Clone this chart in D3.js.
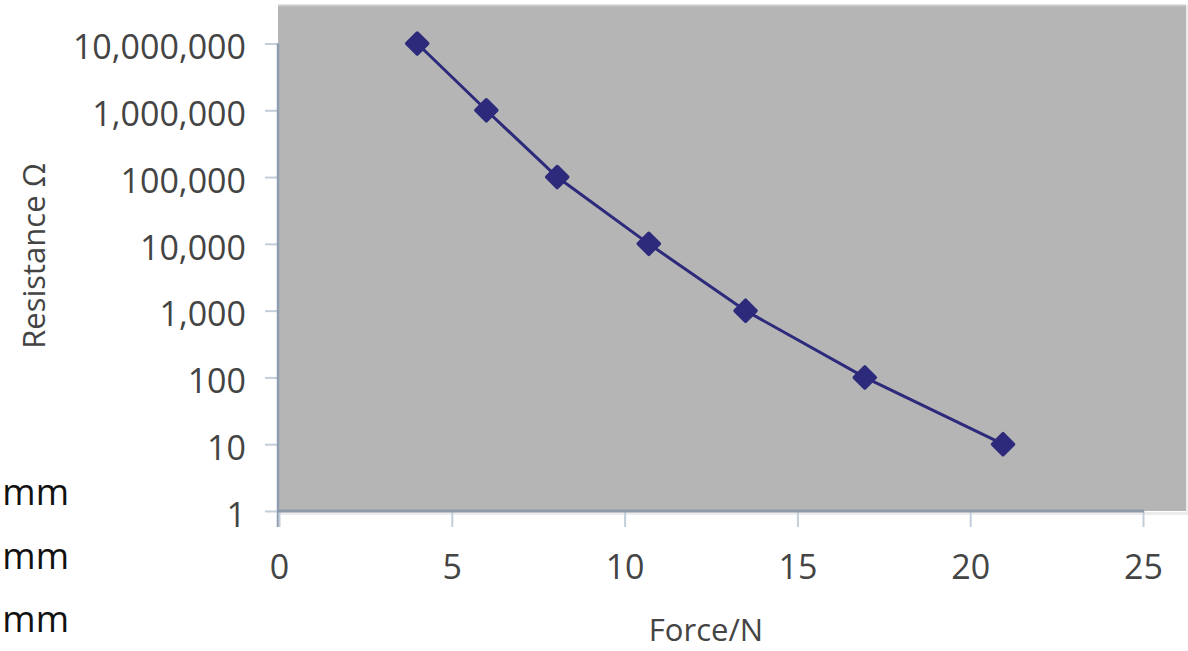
<!DOCTYPE html>
<html>
<head>
<meta charset="utf-8">
<script src="https://cdn.jsdelivr.net/npm/d3@7/dist/d3.min.js"></script>
<style>
  html, body { margin: 0; padding: 0; background: #ffffff; overflow: hidden; }
  svg { display: block; }
</style>
</head>
<body>
<svg id="chart" width="1188" height="651"></svg>
<script>
// ---- data ----
const forceN = [4, 6, 8.05, 10.7, 13.5, 16.95, 20.95];
const resistanceOhm = [10000000, 1000000, 100000, 10000, 1000, 100, 10];
const xTicks = [0, 5, 10, 15, 20, 25];
const yTicks = [1, 10, 100, 1000, 10000, 100000, 1000000, 10000000];
const yTickLabels = ["1", "10", "100", "1,000", "10,000", "100,000", "1,000,000", "10,000,000"];
const sideLabels = ["mm", "mm", "mm"];
const xTitle = "Force/N";
const yTitle = "Resistance Ω";

// ---- layout ----
const plot = { left: 278, top: 5, right: 1186, bottom: 511 };
const svg = d3.select("#chart");
const font = "'Open Sans', 'Segoe UI', sans-serif";
const textColor = "#444444";
const seriesColor = "#2d2a7c";

const x = d3.scaleLinear().domain([0, 25]).range([279, 1143]);
const y = d3.scaleLog().domain([1, 1e7]).range([511, 43.5]);

// plot background
svg.append("rect")
  .attr("x", plot.left).attr("y", plot.top)
  .attr("width", plot.right - plot.left).attr("height", plot.bottom - plot.top)
  .attr("fill", "#b5b5b5");
svg.append("line")
  .attr("x1", plot.left).attr("x2", plot.right)
  .attr("y1", plot.top + 0.5).attr("y2", plot.top + 0.5)
  .attr("stroke", "#c9c9c9").attr("stroke-width", 2);
svg.append("rect")
  .attr("x", plot.right).attr("y", plot.top)
  .attr("width", 2).attr("height", plot.bottom - plot.top + 3)
  .attr("fill", "#ececec");
svg.append("rect")
  .attr("x", plot.left).attr("y", plot.bottom + 1)
  .attr("width", plot.right - plot.left + 2).attr("height", 3)
  .attr("fill", "#ececec");

// y axis
const yAxis = d3.axisLeft(y)
  .tickValues(yTicks)
  .tickSize(13)
  .tickPadding(19)
  .tickFormat((d, i) => yTickLabels[i]);
const gy = svg.append("g").attr("transform", `translate(${plot.left},0)`).call(yAxis);
gy.select(".domain").remove();
gy.selectAll(".tick line").attr("stroke", "#c3cedb").attr("stroke-width", 2);
gy.selectAll(".tick text")
  .attr("font-family", font).attr("font-size", 34)
  .attr("fill", textColor).attr("dy", "0.45em");
svg.append("line")
  .attr("x1", plot.left).attr("x2", plot.left)
  .attr("y1", y(1e7)).attr("y2", 527)
  .attr("stroke", "#8f9db0").attr("stroke-width", 2.5);

// x axis
const xAxis = d3.axisBottom(x)
  .tickValues(xTicks)
  .tickSize(16)
  .tickPadding(28)
  .tickFormat(d3.format("d"));
const gx = svg.append("g").attr("transform", `translate(0,${plot.bottom})`).call(xAxis);
gx.select(".domain").remove();
gx.selectAll(".tick line").attr("stroke", "#c3cedb").attr("stroke-width", 2);
gx.selectAll(".tick text")
  .attr("font-family", font).attr("font-size", 34)
  .attr("fill", textColor);
svg.append("line")
  .attr("x1", plot.left).attr("x2", x(25) + 1)
  .attr("y1", plot.bottom).attr("y2", plot.bottom)
  .attr("stroke", "#8f9aa8").attr("stroke-width", 3);

// series
const pts = forceN.map((f, i) => [f, resistanceOhm[i]]);
svg.append("path")
  .datum(pts)
  .attr("fill", "none")
  .attr("stroke", seriesColor)
  .attr("stroke-width", 3)
  .attr("d", d3.line().x(d => x(d[0])).y(d => y(d[1])));

const r = 10.5;
svg.append("g").selectAll("path")
  .data(pts)
  .join("path")
  .attr("transform", d => `translate(${x(d[0])},${y(d[1])})`)
  .attr("d", `M0,${-r}L${r},0L0,${r}L${-r},0Z`)
  .attr("fill", seriesColor)
  .attr("stroke", seriesColor)
  .attr("stroke-width", 3.5)
  .attr("stroke-linejoin", "round");

// titles
svg.append("text")
  .attr("x", 706).attr("y", 641)
  .attr("text-anchor", "middle")
  .attr("font-family", font).attr("font-size", 31)
  .attr("fill", textColor)
  .text(xTitle);
svg.append("text")
  .attr("transform", "translate(45,256) rotate(-90)")
  .attr("text-anchor", "middle")
  .attr("font-family", font).attr("font-size", 31)
  .attr("fill", textColor)
  .text(yTitle);

// side labels (partly visible text at the left margin)
svg.append("g").selectAll("text")
  .data(sideLabels)
  .join("text")
  .attr("x", 69)
  .attr("y", (d, i) => 505 + i * 63.5)
  .attr("text-anchor", "end")
  .attr("font-family", font).attr("font-size", 36)
  .attr("fill", "#111111")
  .text(d => d);
</script>
</body>
</html>
